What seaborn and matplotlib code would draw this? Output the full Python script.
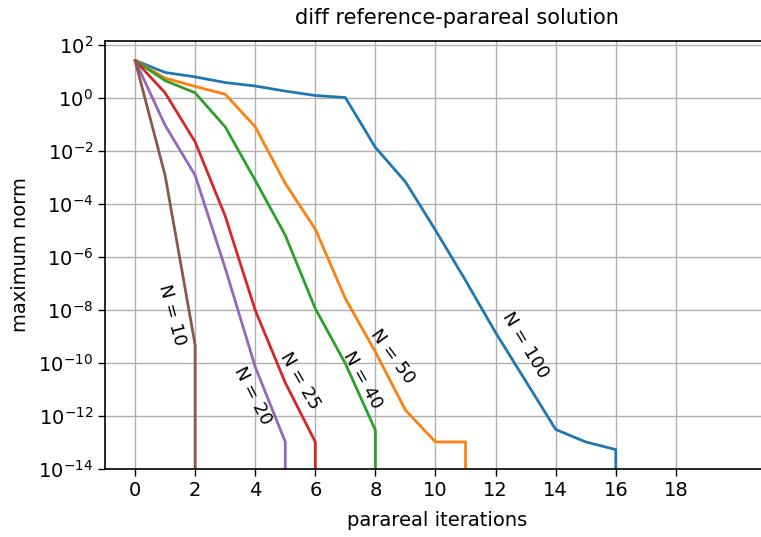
import numpy as np
import pandas as pd
import seaborn as sns
import matplotlib.pyplot as plt
from matplotlib.ticker import NullLocator

# parareal iterations per run, the last point drops below the plot range
iters_100 = [0, 1, 2, 3, 4, 5, 6, 7, 8, 9, 10, 11, 12, 13, 14, 15, 16, 16]
err_100 = [26, 9.1, 6.2, 3.8, 2.8, 1.8, 1.23, 1.03, 1.35e-2, 6.8e-4, 1.02e-5,
           1.3e-7, 1.4e-9, 2.1e-11, 3.1e-13, 1.05e-13, 5.4e-14, 1e-20]
iters_50 = [0, 1, 2, 3, 4, 5, 6, 7, 8, 9, 10, 11, 11]
err_50 = [26, 5.6, 2.7, 1.38, 8.1e-2, 5.9e-4, 1.12e-5, 2.7e-8, 2.6e-10,
          1.66e-12, 1.05e-13, 1.05e-13, 1e-20]
iters_40 = [0, 1, 2, 3, 4, 5, 6, 7, 8, 8]
err_40 = [26, 4.5, 1.55, 8.1e-2, 7.8e-4, 6.6e-6, 1.12e-8, 9.5e-11, 2.9e-13, 1e-20]
iters_25 = [0, 1, 2, 3, 4, 5, 6, 6]
err_25 = [26, 1.55, 2.2e-2, 3.5e-5, 9.8e-9, 1.8e-11, 1.05e-13, 1e-20]
iters_20 = [0, 1, 2, 3, 4, 5, 5]
err_20 = [26, 9.3e-2, 1.2e-3, 3.8e-7, 7.1e-11, 1.05e-13, 1e-20]
iters_10 = [0, 1, 2, 2]
err_10 = [26, 1.2e-3, 4.7e-10, 1e-20]

runs = [100, 50, 40, 25, 20, 10]
all_iters = [iters_100, iters_50, iters_40, iters_25, iters_20, iters_10]
all_errs = [err_100, err_50, err_40, err_25, err_20, err_10]

# inline labels: x, y, rotation
label_x = [13.0, 8.56, 7.56, 5.49, 3.93, 1.24]
label_y = [4.7e-10, 1.7e-10, 2.2e-11, 2.2e-11, 6.0e-12, 6.3e-9]
label_rot = [-59, -54, -61, -60, -63, -75]

frames = []
for n, it, er in zip(runs, all_iters, all_errs):
    frames.append(pd.DataFrame({"iteration": it, "error": er, "N": n}))
df = pd.concat(frames, ignore_index=True)

sns.set_style("ticks")
plt.rcParams["font.family"] = ["DejaVu Sans"]
plt.rcParams["text.color"] = "black"
plt.rcParams["axes.labelcolor"] = "black"
plt.rcParams["xtick.color"] = "black"
plt.rcParams["ytick.color"] = "black"

fig = plt.figure(figsize=(7.61, 5.37), dpi=100)
ax = fig.add_axes([105 / 761, 1 - 469 / 537, 664 / 761, 428 / 537])
ax.set_yscale("log")

sns.lineplot(data=df, x="iteration", y="error", hue="N", hue_order=runs,
             palette="tab10", estimator=None, sort=False, linewidth=2,
             legend=False, ax=ax)

for n, lx, ly, rot in zip(runs, label_x, label_y, label_rot):
    ax.text(lx, ly, "N = %d" % n, rotation=rot, ha="center", va="center",
            fontsize=13, rotation_mode="anchor", color="black")

ax.set_xlim(-1, 21.1)
ax.set_ylim(1e-14, 1.4e2)
ax.set_xticks(np.arange(0, 20, 2))
ax.set_yticks(10.0 ** np.arange(-14, 3, 2))
ax.yaxis.set_minor_locator(NullLocator())
ax.grid(True, color="#b0b0b0", linewidth=1.0)
ax.tick_params(labelsize=14, length=5, width=1, color="black")
for s in ax.spines.values():
    s.set_color("black")
    s.set_linewidth(1.2)

ax.set_xlabel("parareal iterations", fontsize=14, labelpad=8)
ax.set_ylabel("maximum norm", fontsize=14, labelpad=6)
ax.set_title("diff reference-parareal solution", fontsize=15, x=0.53, pad=12)

fig.savefig("out.png", dpi=100)
